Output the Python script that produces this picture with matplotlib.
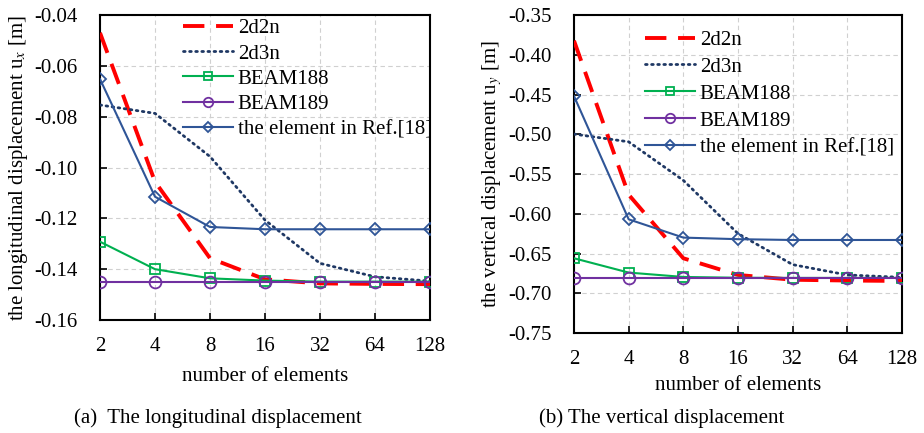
import matplotlib
matplotlib.use("Agg")
import matplotlib.pyplot as plt
import numpy as np

plt.rcParams['font.family'] = ['Liberation Serif', 'DejaVu Serif']
plt.rcParams['mathtext.fontset'] = 'stix'

elements = [2, 4, 8, 16, 32, 64, 128]
xlabels = ["2", "4", "8", "16", "32", "64", "128"]

# (a) longitudinal displacement
ux_2d2n = [-0.047, -0.1056, -0.1357, -0.1440, -0.1456, -0.1458, -0.1459]
ux_2d3n = [-0.0754, -0.0787, -0.0957, -0.1207, -0.1377, -0.1430, -0.1447]
ux_beam188 = [-0.1292, -0.1400, -0.1436, -0.1445, -0.1449, -0.1449, -0.1449]
ux_beam189 = [-0.1449, -0.1449, -0.1449, -0.1449, -0.1449, -0.1449, -0.1449]
ux_ref18 = [-0.0652, -0.1115, -0.1234, -0.1243, -0.1243, -0.1243, -0.1243]

# (b) vertical displacement
uy_2d2n = [-0.3823, -0.576, -0.656, -0.677, -0.683, -0.684, -0.6845]
uy_2d3n = [-0.4998, -0.5095, -0.558, -0.625, -0.664, -0.677, -0.680]
uy_beam188 = [-0.656, -0.674, -0.6795, -0.6805, -0.6807, -0.6807, -0.6807]
uy_beam189 = [-0.6807, -0.6807, -0.6807, -0.6807, -0.6807, -0.6807, -0.6807]
uy_ref18 = [-0.452, -0.607, -0.630, -0.632, -0.633, -0.633, -0.633]

labels = ["2d2n", "2d3n", "BEAM188", "BEAM189", "the element in Ref.[18]"]

RED = "#FF0000"
NAVY = "#1F3864"
GREEN = "#00B050"
PURPLE = "#7030A0"
BLUE = "#2F5597"

fig = plt.figure(figsize=(9.24, 4.33), dpi=100)
ax1 = fig.add_axes([100/924, 1-320/433, 330/924, 305/433])
ax2 = fig.add_axes([574/924, 1-333/433, 328/924, 318/433])

def draw(ax, s2d2n, s2d3n, s188, s189, sref):
    pos = np.arange(len(elements))
    ax.plot(pos, s2d2n, color=RED, lw=2.8, dashes=(5.5, 3.0), label=labels[0], zorder=3)
    ax.plot(pos, s2d3n, color=NAVY, lw=2.0, linestyle=(0, (0.6, 1.6)), dash_capstyle='round', label=labels[1], zorder=3)
    ax.plot(pos, s188, color=GREEN, lw=1.5, marker='s', ms=7.5, mfc='none', mew=1.3, label=labels[2], zorder=4)
    ax.plot(pos, s189, color=PURPLE, lw=1.5, marker='o', ms=8.5, mfc='none', mew=1.3, label=labels[3], zorder=4)
    ax.plot(pos, sref, color=BLUE, lw=1.5, marker='D', ms=6.5, mfc='none', mew=1.3, label=labels[4], zorder=5)
    ax.set_xlim(0, len(elements) - 1)
    ax.set_xticks(pos)
    ax.set_xticklabels(xlabels)
    ax.grid(True, color='#D0D0D0', linestyle=(0, (4, 3)), lw=0.8)
    ax.set_axisbelow(True)
    ax.tick_params(direction='in', labelsize=15, length=5, width=1.2)
    ax.tick_params(axis='y', pad=16)
    ax.tick_params(axis='x', pad=12)
    for s in ax.spines.values():
        s.set_linewidth(1.5)

draw(ax1, ux_2d2n, ux_2d3n, ux_beam188, ux_beam189, ux_ref18)
ax1.set_ylim(-0.16, -0.04)
ax1.set_yticks(np.arange(-0.16, -0.039, 0.02))
ax1.set_yticklabels([f"{v:.2f}" for v in np.arange(-0.16, -0.039, 0.02)])
ax1.set_ylabel(r"the longitudinal displacement u$_x$ [m]", fontsize=15, labelpad=3)
ax1.set_xlabel("number of elements", fontsize=15, labelpad=8)
ax1.legend(loc='upper left', bbox_to_anchor=(0.225, 1.015), frameon=False, fontsize=15,
           handlelength=2.4, handletextpad=0.25, labelspacing=0.27, borderaxespad=0, markerscale=0.8)

draw(ax2, uy_2d2n, uy_2d3n, uy_beam188, uy_beam189, uy_ref18)
ax2.set_ylim(-0.75, -0.35)
ax2.set_yticks(np.arange(-0.75, -0.349, 0.05))
ax2.set_yticklabels([f"{v:.2f}" for v in np.arange(-0.75, -0.349, 0.05)])
ax2.set_ylabel(r"the vertical displacement u$_y$ [m]", fontsize=15, labelpad=3)
ax2.set_xlabel("number of elements", fontsize=15, labelpad=5)
ax2.legend(loc='upper left', bbox_to_anchor=(0.19, 0.978), frameon=False, fontsize=15,
           handlelength=2.4, handletextpad=0.25, labelspacing=0.35, borderaxespad=0, markerscale=0.8)

fig.text(218/924, 1-418/433, "(a)  The longitudinal displacement", fontsize=15, ha='center', va='center')
fig.text(662/924, 1-418/433, "(b) The vertical displacement", fontsize=15, ha='center', va='center')

fig.savefig("out.png", dpi=100)
